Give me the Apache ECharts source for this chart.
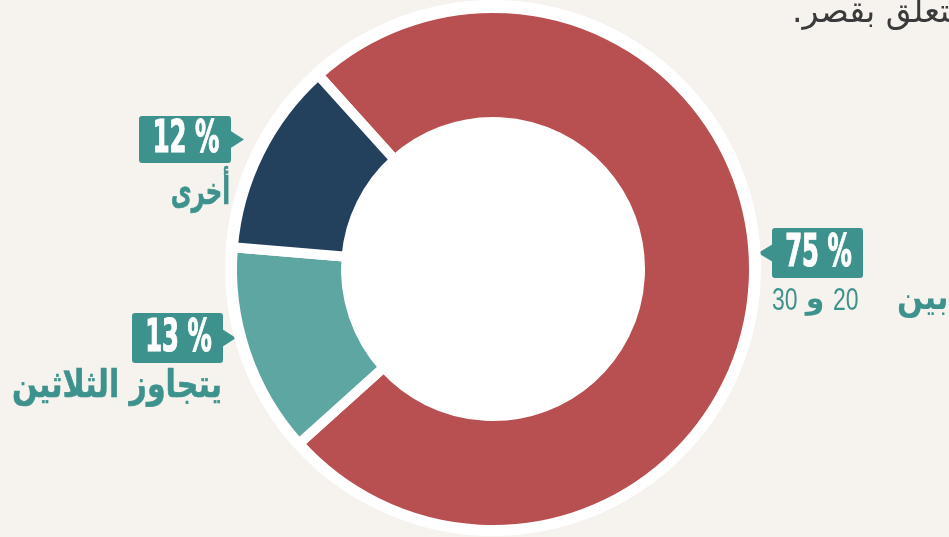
<!DOCTYPE html>
<html><head><meta charset="utf-8">
<script src="https://cdn.jsdelivr.net/npm/echarts@6/dist/echarts.min.js"></script>
<style>html,body{margin:0;padding:0;background:#f6f3ee}#c{width:949px;height:537px}</style>
</head><body><div id="c"></div>
<script>
const categories = ['بين 20 و 30', 'يتجاوز الثلاثين', 'أخرى'];
const values = [75, 13, 12];
const sliceColors = ['#b85052', '#5ea6a1', '#23405c'];
const caption = 'يتعلق بقصر.\u200F';

const TEAL = '#3e928d';
const PCT_FONT = '"DejaVu Sans Condensed","Liberation Sans Narrow","Liberation Sans",sans-serif';
const AR_FONT = '"DejaVu Sans",sans-serif';

function callout(val, bx, by, bw, bh, side) {
  const cy = by + bh / 2;
  const pts = side === 'right'
    ? [[bx + bw - 1, cy - 9], [bx + bw + 13, cy], [bx + bw - 1, cy + 9]]
    : [[bx + 1, cy - 9], [bx - 14, cy], [bx + 1, cy + 9]];
  return [
    { type: 'rect', shape: { x: bx, y: by, width: bw, height: bh, r: 3 }, style: { fill: TEAL } },
    { type: 'polygon', shape: { points: pts }, style: { fill: TEAL } },
    { type: 'text', x: bx + bw / 2 + 1, y: cy + 1, scaleX: 0.6,
      style: { text: val + ' %', fill: '#fff', stroke: '#fff', lineWidth: 1.2, fontFamily: PCT_FONT, fontWeight: 'bold', fontSize: 45,
               textAlign: 'center', textVerticalAlign: 'middle' } }
  ];
}

const parts75 = categories[0].split(' '); // ['بين','20','و','30']

const graphics = [
  ...callout(values[2], 139, 116, 92, 47, 'right'),
  ...callout(values[1], 132, 313, 91, 50, 'right'),
  ...callout(values[0], 772, 228, 91, 50, 'left'),
  { type: 'text', x: 230, y: 194, scaleX: 0.6, style: { text: categories[2], fill: TEAL, stroke: TEAL, lineWidth: 0.6, fontFamily: AR_FONT, fontWeight: 'bold', fontSize: 38, textAlign: 'right', textVerticalAlign: 'middle' } },
  { type: 'text', x: 222, y: 387, scaleX: 0.79, style: { text: categories[1], fill: TEAL, stroke: TEAL, lineWidth: 0.6, fontFamily: AR_FONT, fontWeight: 'bold', fontSize: 38, textAlign: 'right', textVerticalAlign: 'middle' } },
  { type: 'text', x: 897, y: 300, scaleX: 0.85, style: { text: parts75[0], fill: TEAL, fontFamily: AR_FONT, fontWeight: 'bold', fontSize: 36, textAlign: 'left', textVerticalAlign: 'middle' } },
  { type: 'text', x: 833, y: 301, scaleX: 0.72, style: { text: parts75[1], fill: TEAL, fontFamily: '"Liberation Sans",sans-serif', fontSize: 32, textAlign: 'left', textVerticalAlign: 'middle' } },
  { type: 'text', x: 815, y: 300, style: { text: parts75[2], fill: TEAL, fontFamily: AR_FONT, fontWeight: 'bold', fontSize: 30, textAlign: 'center', textVerticalAlign: 'middle' } },
  { type: 'text', x: 772, y: 301, scaleX: 0.72, style: { text: parts75[3], fill: TEAL, fontFamily: '"Liberation Sans",sans-serif', fontSize: 32, textAlign: 'left', textVerticalAlign: 'middle' } },
  { type: 'text', x: 792, y: 13, style: { text: caption, fill: '#3a3a3a', fontFamily: AR_FONT, fontSize: 33, textAlign: 'left', textVerticalAlign: 'middle' } }
];

const chart = echarts.init(document.getElementById('c'), null, { renderer: 'canvas' });
chart.setOption({
  backgroundColor: '#f6f3ee',
  animation: false,
  series: [
    { type: 'pie', center: [493, 268], radius: [0, 268], silent: true,
      label: { show: false }, labelLine: { show: false },
      data: [{ value: 1, itemStyle: { color: '#ffffff' } }] },
    { type: 'pie', center: [493, 269], radius: [147, 261], startAngle: 132, clockwise: true, silent: true,
      label: { show: false }, labelLine: { show: false },
      itemStyle: { borderColor: '#ffffff', borderWidth: 10 },
      data: categories.map((c, i) => ({ name: c, value: values[i], itemStyle: { color: sliceColors[i] } })) }
  ],
  graphic: graphics
});
</script></body></html>
